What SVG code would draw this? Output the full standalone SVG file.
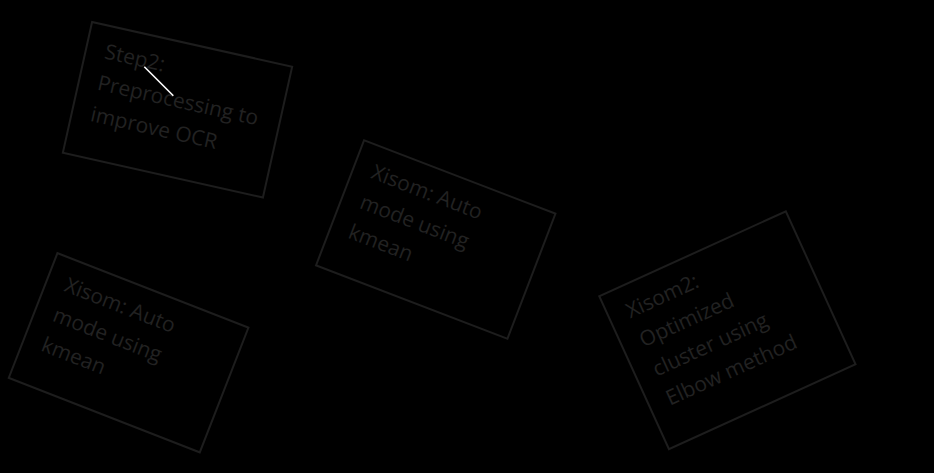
<svg xmlns="http://www.w3.org/2000/svg" width="934" height="473" viewBox="0 0 934 473">
<style>
.box{fill:none;stroke:#1d1d1d;stroke-width:2}
.lbl{font-family:"Open Sans","Noto Sans",sans-serif;font-size:21px;fill:#222222}
.conn{stroke:#ffffff;stroke-width:1.6;fill:none}
</style>
<rect x="0" y="0" width="934" height="473" fill="#000000"/>
<g id="node-step2" transform="translate(177.5,109.75) rotate(12.6)">
<rect class="box" x="-102.5" y="-67" width="205" height="134"/>
<text class="lbl" x="-83.5" y="-34">Step2:</text>
<text class="lbl" x="-83.5" y="-2">Preprocessing to</text>
<text class="lbl" x="-83.5" y="30">improve OCR</text>
</g>
<g id="node-xisom-a" transform="translate(435.75,239.5) rotate(21)">
<rect class="box" x="-102.5" y="-67" width="205" height="134"/>
<text class="lbl" x="-83.5" y="-34">Xisom: Auto</text>
<text class="lbl" x="-83.5" y="-2">mode using</text>
<text class="lbl" x="-83.5" y="30">kmean</text>
</g>
<g id="node-xisom-b" transform="translate(128.6,352.75) rotate(21.3)">
<rect class="box" x="-102.5" y="-67" width="205" height="134"/>
<text class="lbl" x="-83.5" y="-34">Xisom: Auto</text>
<text class="lbl" x="-83.5" y="-2">mode using</text>
<text class="lbl" x="-83.5" y="30">kmean</text>
</g>
<g id="node-xisom2" transform="translate(727.4,330.25) rotate(-24.5)">
<rect class="box" x="-102.5" y="-84" width="205" height="168"/>
<text class="lbl" x="-83.5" y="-51">Xisom2:</text>
<text class="lbl" x="-83.5" y="-19">Optimized</text>
<text class="lbl" x="-83.5" y="13">cluster using</text>
<text class="lbl" x="-83.5" y="45">Elbow method</text>
</g>
<g id="connectors">
<line class="conn" x1="144.3" y1="66.7" x2="173.3" y2="95.7"/>
</g>
</svg>
